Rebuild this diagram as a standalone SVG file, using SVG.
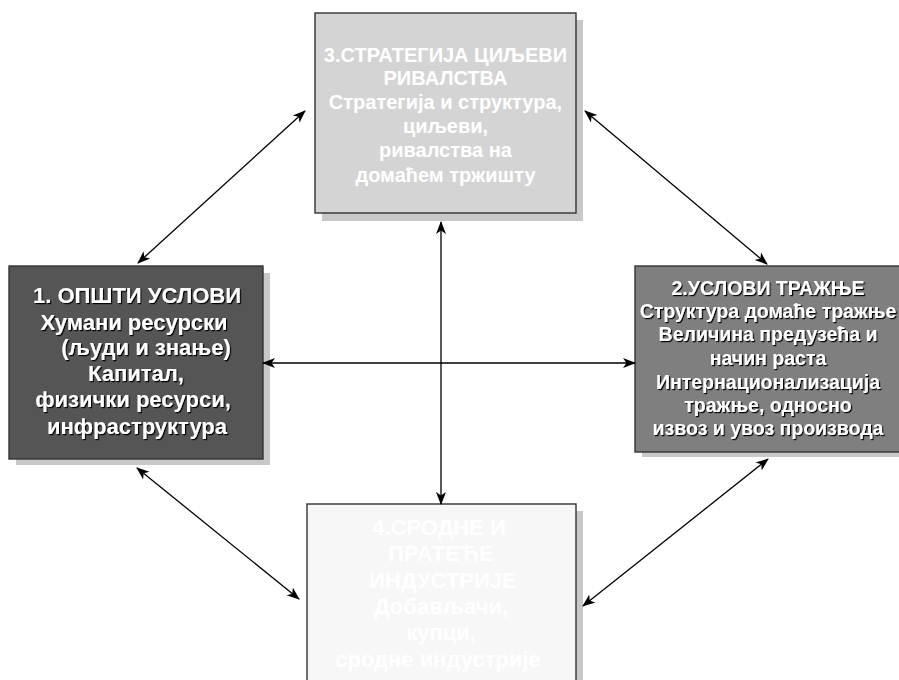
<svg xmlns="http://www.w3.org/2000/svg" width="899" height="680" viewBox="0 0 899 680">
<defs>
<marker id="ah" markerUnits="userSpaceOnUse" markerWidth="14" markerHeight="12" refX="12" refY="5" orient="auto-start-reverse" viewBox="0 0 14 10">
<path d="M0,0 L13,5 L0,10 L3.5,5 Z" fill="#000"/>
</marker>
<filter id="ts" x="-5%" y="-5%" width="110%" height="120%">
<feDropShadow dx="1.2" dy="1.2" stdDeviation="0" flood-color="#000" flood-opacity="1"/>
</filter>
</defs>
<style>
.sh{fill:#c8c8c8;stroke:none}
.bx{stroke:#333;stroke-width:1.4}
text{font-family:"Liberation Sans",Arial,sans-serif;font-weight:bold;fill:#fff;text-anchor:middle}
.cn{fill:none;stroke:#000;stroke-width:1.3;marker-start:url(#ah);marker-end:url(#ah)}
</style>
<rect width="899" height="680" fill="#fff"/>
<g id="node3">
<rect class="sh" x="322" y="20" width="261" height="201"/>
<rect class="bx" x="315" y="13" width="261" height="200" fill="#d4d4d4"/>
<g font-size="20">
<text x="445.5" y="62">3.СТРАТЕГИЈА ЦИЉЕВИ</text>
<text x="445.5" y="85">РИВАЛСТВА</text>
<text x="445.5" y="109">Стратегија и структура,</text>
<text x="445.5" y="133">циљеви,</text>
<text x="445.5" y="157">ривалства на</text>
<text x="445.5" y="182">домаћем тржишту</text>
</g>
</g>
<g id="node1">
<rect class="sh" x="16" y="273" width="254" height="192"/>
<rect class="bx" x="9" y="266" width="254" height="193" fill="#555555"/>
<g font-size="22" filter="url(#ts)">
<text x="137" y="303">1. ОПШТИ УСЛОВИ</text>
<text x="134" y="330">Хумани ресурски</text>
<text x="146" y="355">(људи и знање)</text>
<text x="136" y="381">Капитал,</text>
<text x="133" y="407">физички ресурси,</text>
<text x="137" y="434">инфраструктура</text>
</g>
</g>
<g id="node2">
<rect class="sh" x="642" y="273" width="270" height="184"/>
<rect class="bx" x="635" y="266" width="267" height="186" fill="#7f7f7f"/>
<g font-size="19.5" filter="url(#ts)">
<text x="768" y="295">2.УСЛОВИ ТРАЖЊЕ</text>
<text x="768" y="318">Структура домаће тражње</text>
<text x="768" y="341">Величина предузећа и</text>
<text x="768" y="365">начин раста</text>
<text x="768" y="389">Интернационализација</text>
<text x="768" y="412">тражње, односно</text>
<text x="768" y="435">извоз и увоз производа</text>
</g>
</g>
<g id="node4">
<rect class="sh" x="314" y="511" width="269" height="180"/>
<rect class="bx" x="307" y="504" width="269" height="190" fill="#f7f7f7"/>
<g font-size="22">
<text x="439" y="535">4.СРОДНЕ И</text>
<text x="441" y="561">ПРАТЕЋЕ</text>
<text x="443" y="588">ИНДУСТРИЈЕ</text>
<text x="441" y="614">Добављачи,</text>
<text x="441" y="640">купци,</text>
<text x="438" y="667">сродне индустрије</text>
</g>
</g>
<g id="connectors">
<line class="cn" x1="138" y1="263" x2="305" y2="111"/>
<line class="cn" x1="585" y1="111" x2="767" y2="264"/>
<line class="cn" x1="137" y1="468" x2="299" y2="599"/>
<line class="cn" x1="768" y1="459" x2="583" y2="606"/>
<line class="cn" x1="263" y1="363" x2="635" y2="363"/>
<line class="cn" x1="441" y1="222" x2="441" y2="504"/>
</g>
</svg>
